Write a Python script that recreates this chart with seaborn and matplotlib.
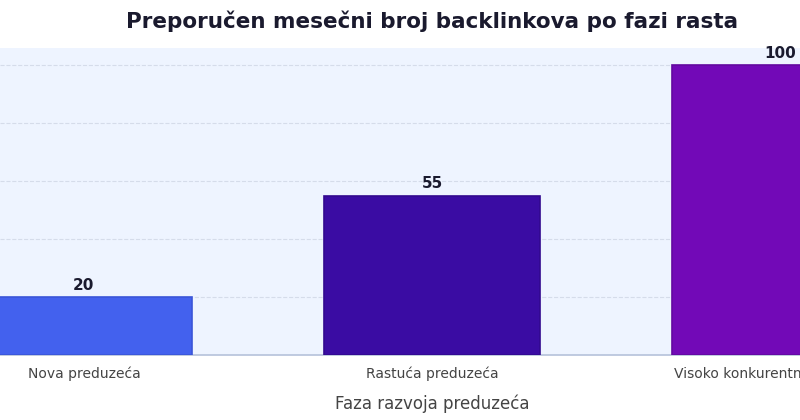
import matplotlib
matplotlib.use("Agg")
import matplotlib.pyplot as plt
import seaborn as sns
import pandas as pd

categories = ["Nova preduzeća", "Rastuća preduzeća", "Visoko konkurentna preduzeća"]
values = [20, 55, 100]
colors = ["#4361EE", "#3A0CA3", "#7209B7"]
edges = ["#3a55d8", "#32098f", "#6308a0"]

sns.set_theme(style="white")
plt.rcParams['font.family'] = ['DejaVu Sans']
df = pd.DataFrame({"cat": categories, "val": values})

fig = plt.figure(figsize=(8, 4.2), dpi=100)
ax = fig.add_axes([0, 0.155, 1, 0.731])
ax.set_facecolor("#EEF4FF")
sns.barplot(data=df, x="cat", y="val", hue="cat", palette=colors, legend=False,
            width=0.62, ax=ax, saturation=1, zorder=3)
for p, e in zip(ax.patches, edges):
    p.set_edgecolor(e)
    p.set_linewidth(1.2)
ax.set_xlim(-0.241, 2.057)
ax.set_ylim(0, 106)
ax.set_yticks([0, 20, 40, 60, 80, 100])
ax.yaxis.grid(True, linestyle="--", color="#d5dcea", linewidth=0.8, zorder=0)
ax.tick_params(axis="y", left=False, labelleft=False)
ax.tick_params(axis="x", colors="#444444", labelsize=10, length=0, pad=8)
for s in ["top", "right", "left"]:
    ax.spines[s].set_visible(False)
ax.spines["bottom"].set_color("#b8c4dc")
for i, v in enumerate(values):
    ax.text(i, v + 1.5, str(v), ha="center", va="bottom", fontsize=11, fontweight="bold", color="#1a1a2e")
ax.set_xlabel("Faza razvoja preduzeća", fontsize=12, color="#444444", labelpad=10)
ax.xaxis.set_label_coords(0.54, -0.13)
ax.set_ylabel("")
fig.suptitle("Preporučen mesečni broj backlinkova po fazi rasta", x=0.54, y=0.975,
             fontsize=15.5, fontweight="bold", color="#1a1a2e")
fig.savefig("out.png", dpi=100)
